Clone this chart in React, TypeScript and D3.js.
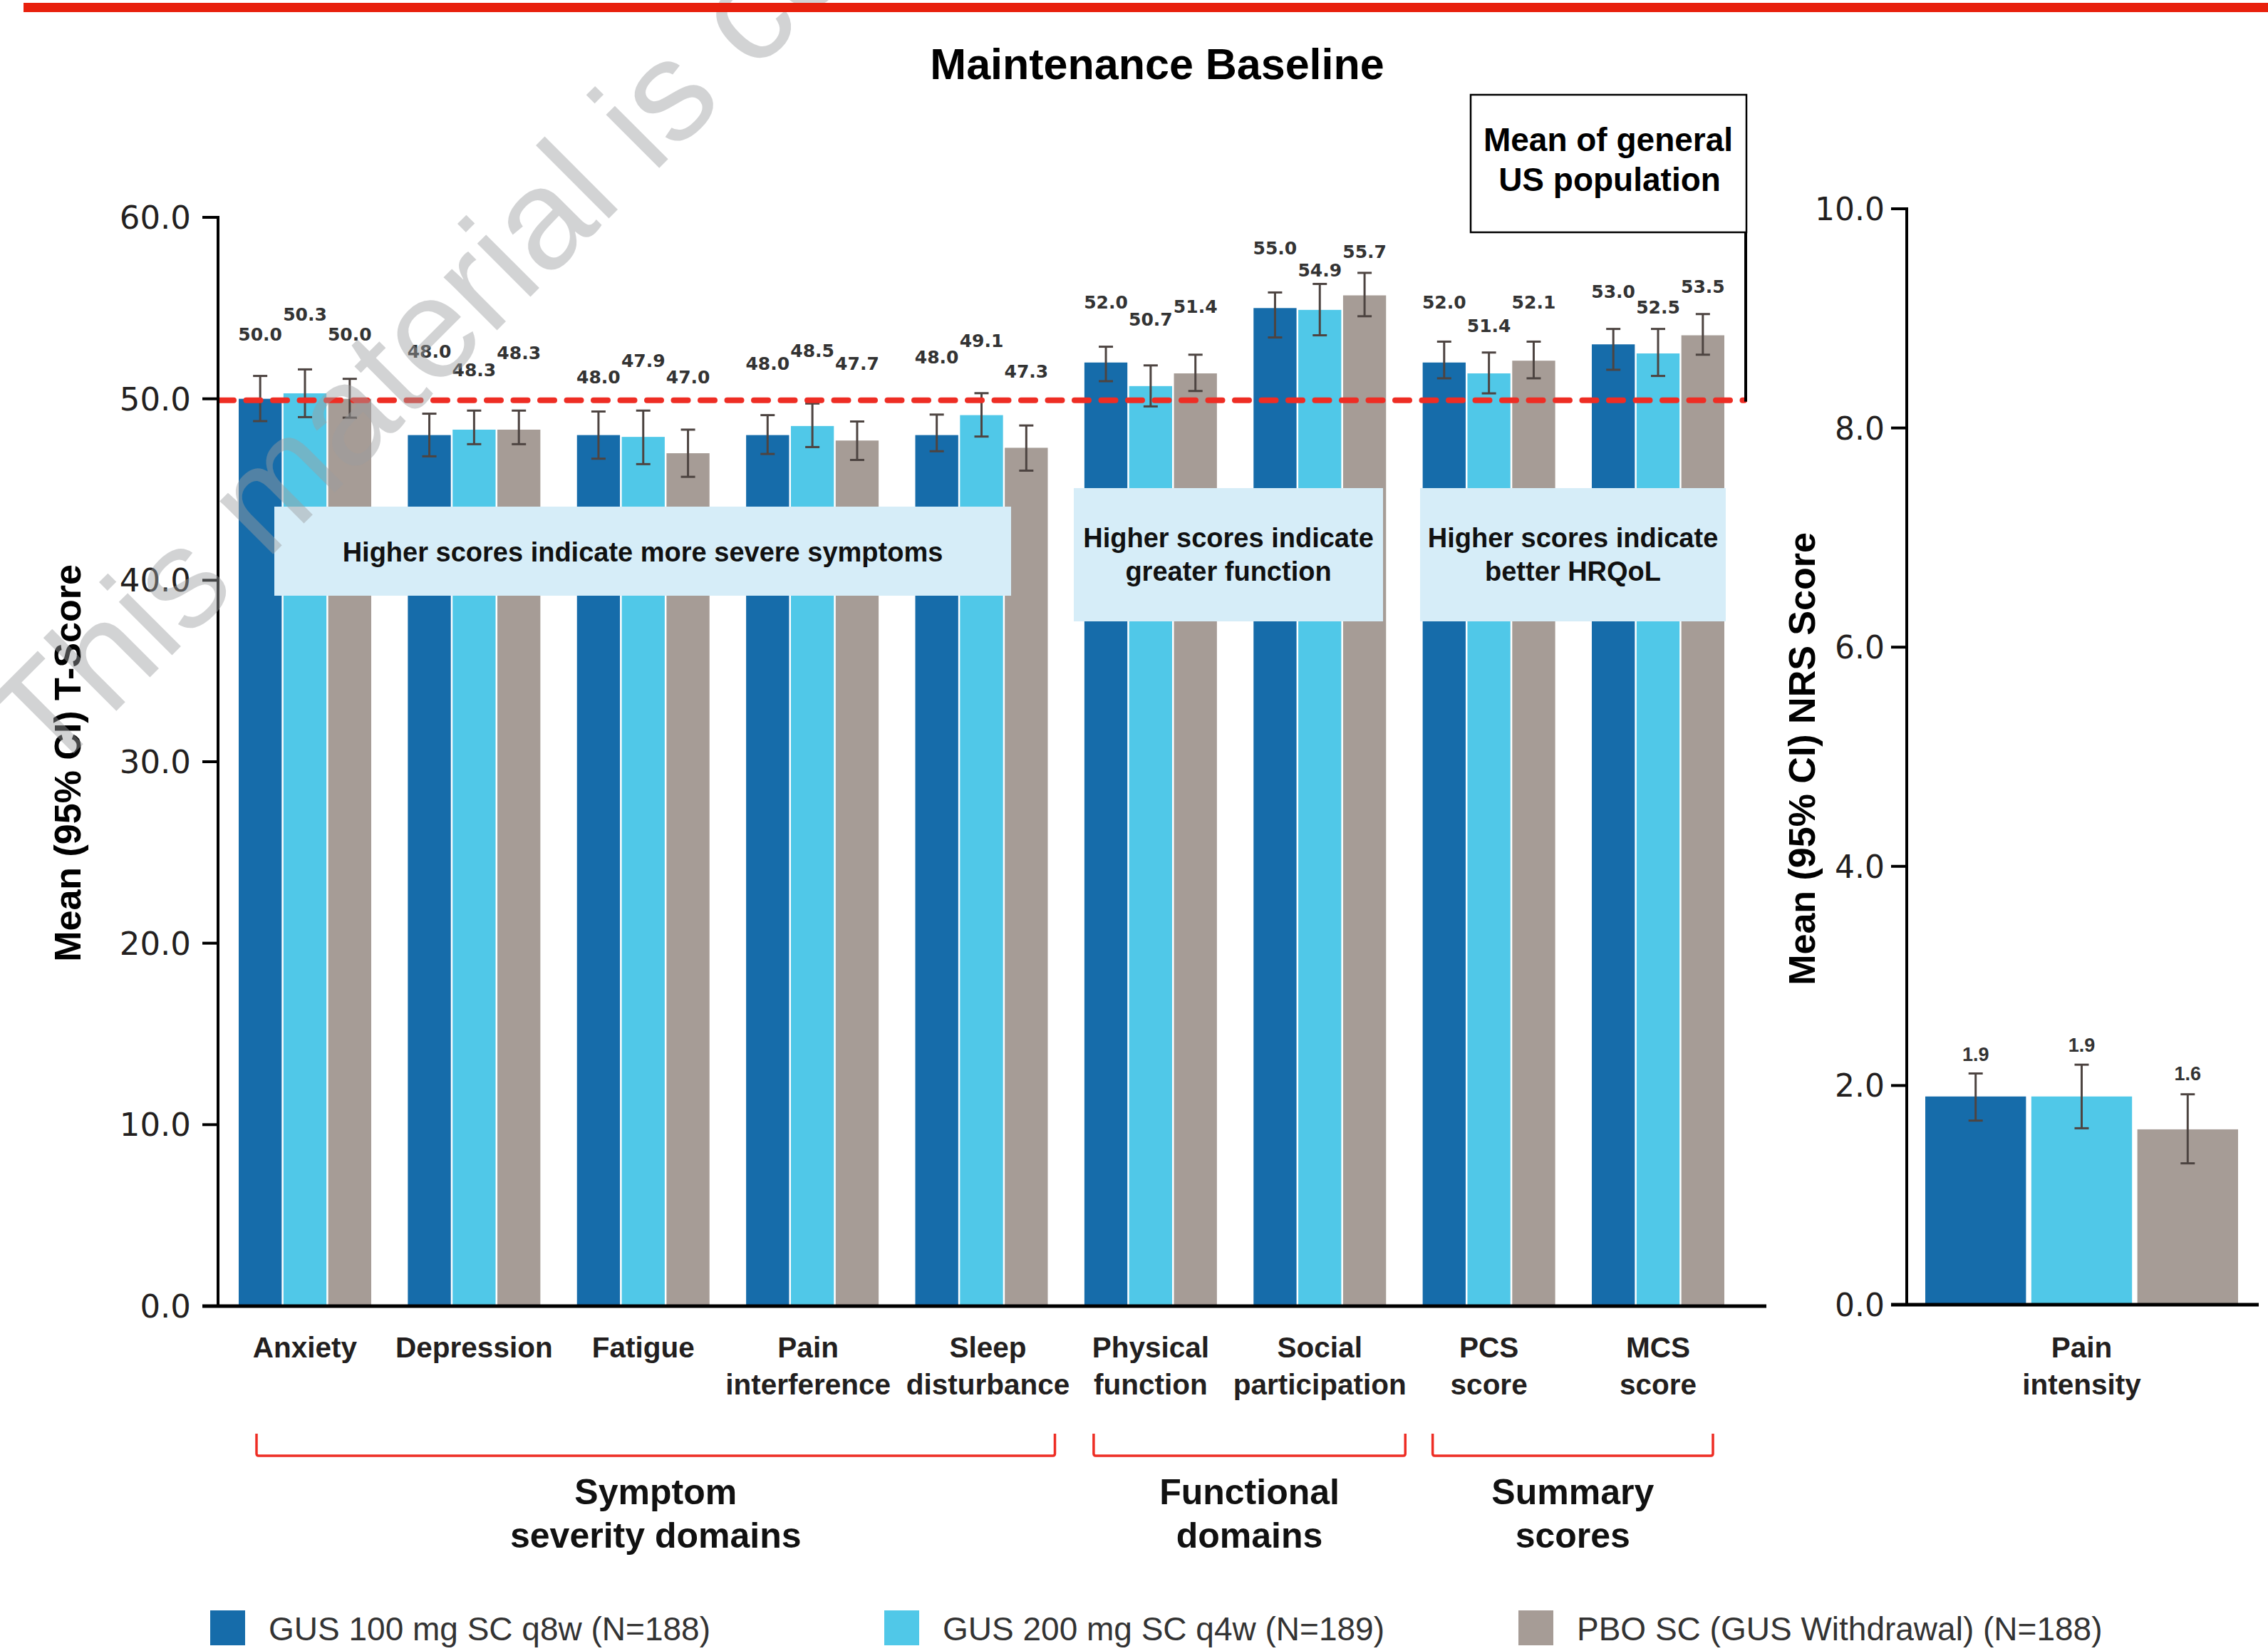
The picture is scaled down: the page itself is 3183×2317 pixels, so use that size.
import React from 'react';
import * as d3 from 'd3';

// ---------- DATA ----------
const categories = [
  'Anxiety', 'Depression', 'Fatigue', 'Pain interference', 'Sleep disturbance',
  'Physical function', 'Social participation', 'PCS score', 'MCS score',
];
const categoryLines = [
  ['Anxiety'], ['Depression'], ['Fatigue'], ['Pain', 'interference'], ['Sleep', 'disturbance'],
  ['Physical', 'function'], ['Social', 'participation'], ['PCS', 'score'], ['MCS', 'score'],
];
const seriesNames = ['GUS 100 mg SC q8w (N=188)', 'GUS 200 mg SC q4w (N=189)', 'PBO SC (GUS Withdrawal) (N=188)'];
const seriesColors = ['#166CAA', '#50C8E8', '#A69C96'];

const gus100 = [50.0, 48.0, 48.0, 48.0, 48.0, 52.0, 55.0, 52.0, 53.0];
const gus200 = [50.3, 48.3, 47.9, 48.5, 49.1, 50.7, 54.9, 51.4, 52.5];
const pbo = [50.0, 48.3, 47.0, 47.7, 47.3, 51.4, 55.7, 52.1, 53.5];

const gus100Lo = [48.77, 46.83, 46.7, 46.96, 47.11, 50.97, 53.38, 51.13, 51.6];
const gus100Hi = [51.26, 49.18, 49.3, 49.1, 49.13, 52.87, 55.86, 53.15, 53.85];
const gus200Lo = [48.99, 47.5, 46.4, 47.34, 47.92, 49.58, 53.5, 50.3, 51.26];
const gus200Hi = [51.62, 49.35, 49.35, 49.74, 50.31, 51.84, 56.33, 52.55, 53.85];
const pboLo = [48.96, 47.5, 45.7, 46.63, 46.04, 50.43, 54.55, 51.13, 52.43];
const pboHi = [51.1, 49.35, 48.3, 48.75, 48.53, 52.43, 56.94, 53.15, 54.67];

// level (T-score units) at which each value label sits
const gus100LabelLevel = [53.55, 52.63, 51.22, 51.96, 52.32, 55.34, 58.33, 55.34, 55.93];
const gus200LabelLevel = [54.65, 51.6, 52.12, 52.67, 53.22, 54.4, 57.08, 54.05, 55.07];
const pboLabelLevel = [53.55, 52.55, 51.22, 51.96, 51.53, 55.1, 58.13, 55.34, 56.21];

const painCategory = ['Pain intensity'];
const painValues = [1.9, 1.9, 1.6];
const painLo = [1.68, 1.61, 1.29];
const painHi = [2.11, 2.19, 1.92];
const painLabelLevel = [2.29, 2.37, 2.11];

const leftTicks = [0, 10, 20, 30, 40, 50, 60];
const rightTicks = [0, 2, 4, 6, 8, 10];
const generalPopulationMean = 50;

const domainGroupLabels = [['Symptom', 'severity domains'], ['Functional', 'domains'], ['Summary', 'scores']];
const domainGroupFirst = [0, 5, 7];
const domainGroupLast = [4, 6, 8];

const noteTexts = [
  ['Higher scores indicate more severe symptoms'],
  ['Higher scores indicate', 'greater function'],
  ['Higher scores indicate', 'better HRQoL'],
];

// ---------- STYLE / LAYOUT ----------
const TEXT = '"Liberation Sans", Arial, sans-serif';
const NUM = '"DejaVu Sans", sans-serif';
const RED = '#EE2D24';
const ERR = '#4D4441';
const INK = '#231F20';
const categoryLabelNudge = [0, 0, 0, -6, 9, 0, 0, 0, 0];
const bracketInset = [[25, 10], [13, 27], [14, -16]];

export default function App() {
  const W = 3183, H = 2317;

  const yL = d3.scaleLinear().domain([0, 60]).range([1833, 305]);
  const yR = d3.scaleLinear().domain([0, 10]).range([1831, 293]);
  const xL = d3.scaleBand<string>().domain(categories).range([335, 2420]).paddingInner(0.2165).paddingOuter(0);
  const xLS = d3.scaleBand<number>().domain([0, 1, 2]).range([0, xL.bandwidth()]).paddingInner(0.04);
  const xR = d3.scaleBand<string>().domain(painCategory).range([2702, 3141]);
  const xRS = d3.scaleBand<number>().domain([0, 1, 2]).range([0, xR.bandwidth()]).paddingInner(0.05);

  const values = [gus100, gus200, pbo];
  const los = [gus100Lo, gus200Lo, pboLo];
  const his = [gus100Hi, gus200Hi, pboHi];
  const lbl = [gus100LabelLevel, gus200LabelLevel, pboLabelLevel];

  const axisLeftX = 306;
  const axisRightX = 2676;
  const capW = 10;

  const noteBoxes = [
    { x0: 385, x1: 1419, y0: 711, y1: 836 },
    { x0: 1507, x1: 1941, y0: 685, y1: 872 },
    { x0: 1993, x1: 2422, y0: 685, y1: 872 },
  ];

  const refY = yL(generalPopulationMean) + 2;

  return (
    <div style={{ position: 'absolute', left: 0, top: 0, width: W, height: H, background: '#fff' }}>
      <svg width={W} height={H} viewBox={`0 0 ${W} ${H}`} xmlns="http://www.w3.org/2000/svg">
        <rect x={0} y={0} width={W} height={H} fill="#fff" />

        {/* title */}
        <text x={1624} y={111} textAnchor="middle" fontFamily={TEXT} fontWeight="bold" fontSize={61} fill="#000">
          Maintenance Baseline
        </text>

        {/* left bars */}
        {categories.map((c, i) => (
          <g key={c}>
            {values.map((vals, s) => (
              <rect key={s} x={(xL(c) as number) + (xLS(s) as number)} y={yL(vals[i])}
                width={xLS.bandwidth()} height={yL(0) - yL(vals[i])} fill={seriesColors[s]} />
            ))}
          </g>
        ))}

        {/* annotation boxes */}
        {noteBoxes.map((b, k) => (
          <g key={k}>
            <rect x={b.x0} y={b.y0} width={b.x1 - b.x0} height={b.y1 - b.y0} fill="#D6EDF8" />
            {noteTexts[k].map((line, j) => {
              const n = noteTexts[k].length;
              const cy = (b.y0 + b.y1) / 2;
              const base = n === 1 ? cy + 14 : cy - 11 + j * 47;
              return (
                <text key={j} x={(b.x0 + b.x1) / 2} y={base} textAnchor="middle" fontFamily={TEXT}
                  fontWeight="bold" fontSize={38} fill="#111">{line}</text>
              );
            })}
          </g>
        ))}

        {/* error bars + labels left */}
        {categories.map((c, i) => (
          <g key={c + 'e'}>
            {values.map((vals, s) => {
              const cx = (xL(c) as number) + (xLS(s) as number) + xLS.bandwidth() / 2;
              return (
                <g key={s}>
                  <line x1={cx} x2={cx} y1={yL(los[s][i])} y2={yL(his[s][i])} stroke={ERR} strokeWidth={3} />
                  <line x1={cx - capW} x2={cx + capW} y1={yL(los[s][i])} y2={yL(los[s][i])} stroke={ERR} strokeWidth={3} />
                  <line x1={cx - capW} x2={cx + capW} y1={yL(his[s][i])} y2={yL(his[s][i])} stroke={ERR} strokeWidth={3} />
                  <text x={cx} y={yL(lbl[s][i]) + 9} textAnchor="middle" fontFamily={NUM} fontWeight="bold"
                    fontSize={25} fill="#333">{vals[i].toFixed(1)}</text>
                </g>
              );
            })}
          </g>
        ))}

        {/* reference dashed line + callout */}
        <line x1={axisLeftX + 2} x2={2448} y1={refY} y2={refY} stroke={RED} strokeWidth={8}
          strokeDasharray="20 17.5" strokeLinecap="round" />
        <line x1={2450} x2={2450} y1={326} y2={refY + 2} stroke="#000" strokeWidth={4} />
        <rect x={2064} y={133} width={387} height={193} fill="#fff" stroke="#000" strokeWidth={2.5} />
        <text x={2257} y={212} textAnchor="middle" fontFamily={TEXT} fontWeight="bold" fontSize={46} fill="#000">Mean of general</text>
        <text x={2259} y={268} textAnchor="middle" fontFamily={TEXT} fontWeight="bold" fontSize={46} fill="#000">US population</text>

        {/* left axis */}
        <line x1={axisLeftX} x2={axisLeftX} y1={yL(60) - 2} y2={yL(0) + 2} stroke="#000" strokeWidth={4} />
        <line x1={axisLeftX - 22} x2={2479} y1={yL(0)} y2={yL(0)} stroke="#000" strokeWidth={5} />
        {leftTicks.map((t) => (
          <g key={t}>
            <line x1={axisLeftX - 22} x2={axisLeftX} y1={yL(t)} y2={yL(t)} stroke="#000" strokeWidth={4} />
            <text x={axisLeftX - 38} y={yL(t) + 16} textAnchor="end" fontFamily={NUM} fontSize={45} fill={INK}>
              {t.toFixed(1)}
            </text>
          </g>
        ))}
        <text transform={`translate(113, 1071) rotate(-90)`} textAnchor="middle" fontFamily={TEXT}
          fontWeight="bold" fontSize={52} fill="#000">Mean (95% CI) T-Score</text>

        {/* category labels */}
        {categories.map((c, i) => (
          <g key={c + 'l'}>
            {categoryLines[i].map((line, j) => (
              <text key={j} x={(xL(c) as number) + xL.bandwidth() / 2 + categoryLabelNudge[i]} y={1905 + j * 52}
                textAnchor="middle" fontFamily={TEXT} fontWeight="bold" fontSize={40.5} fill={INK}>{line}</text>
            ))}
          </g>
        ))}

        {/* domain brackets */}
        {domainGroupLabels.map((lines, k) => {
          const x0 = (xL(categories[domainGroupFirst[k]]) as number) + bracketInset[k][0];
          const x1 = (xL(categories[domainGroupLast[k]]) as number) + xL.bandwidth() + bracketInset[k][1];
          const cx = (x0 + x1) / 2;
          return (
            <g key={k}>
              <path d={`M${x0},2012 L${x0},2040 Q${x0},2043 ${x0 + 3},2043 L${x1 - 3},2043 Q${x1},2043 ${x1},2040 L${x1},2012`}
                fill="none" stroke={RED} strokeWidth={3.5} />
              {lines.map((line, j) => (
                <text key={j} x={cx} y={2111 + j * 61} textAnchor="middle" fontFamily={TEXT} fontWeight="bold"
                  fontSize={50} fill="#111">{line}</text>
              ))}
            </g>
          );
        })}

        {/* right panel */}
        {painValues.map((v, s) => {
          const x = (xR(painCategory[0]) as number) + (xRS(s) as number);
          const cx = x + xRS.bandwidth() / 2;
          return (
            <g key={'p' + s}>
              <rect x={x} y={yR(v)} width={xRS.bandwidth()} height={yR(0) - yR(v)} fill={seriesColors[s]} />
              <line x1={cx} x2={cx} y1={yR(painLo[s])} y2={yR(painHi[s])} stroke={ERR} strokeWidth={3} />
              <line x1={cx - capW} x2={cx + capW} y1={yR(painLo[s])} y2={yR(painLo[s])} stroke={ERR} strokeWidth={3} />
              <line x1={cx - capW} x2={cx + capW} y1={yR(painHi[s])} y2={yR(painHi[s])} stroke={ERR} strokeWidth={3} />
              <text x={cx} y={yR(painLabelLevel[s]) + 10} textAnchor="middle" fontFamily={TEXT} fontWeight="bold"
                fontSize={27} fill="#333">{v.toFixed(1)}</text>
            </g>
          );
        })}
        <line x1={axisRightX} x2={axisRightX} y1={yR(10) - 2} y2={yR(0) + 2} stroke="#000" strokeWidth={4} />
        <line x1={axisRightX - 22} x2={3170} y1={yR(0)} y2={yR(0)} stroke="#000" strokeWidth={5} />
        {rightTicks.map((t) => (
          <g key={'r' + t}>
            <line x1={axisRightX - 22} x2={axisRightX} y1={yR(t)} y2={yR(t)} stroke="#000" strokeWidth={4} />
            <text x={axisRightX - 31} y={yR(t) + 16} textAnchor="end" fontFamily={NUM} fontSize={44} fill={INK}>
              {t.toFixed(1)}
            </text>
          </g>
        ))}
        <text transform={`translate(2547, 1065) rotate(-90)`} textAnchor="middle" fontFamily={TEXT}
          fontWeight="bold" fontSize={52} fill="#000">Mean (95% CI) NRS Score</text>
        {['Pain', 'intensity'].map((line, j) => (
          <text key={line} x={(xR(painCategory[0]) as number) + xR.bandwidth() / 2} y={1905 + j * 52}
            textAnchor="middle" fontFamily={TEXT} fontWeight="bold" fontSize={40.5} fill={INK}>{line}</text>
        ))}

        {/* legend */}
        {seriesNames.map((name, s) => {
          const lx = [295, 1241, 2131][s];
          return (
            <g key={name}>
              <rect x={lx} y={2260} width={49} height={49} fill={seriesColors[s]} />
              <text x={lx + 82} y={2302} fontFamily={TEXT} fontSize={46} fill="#333">{name}</text>
            </g>
          );
        })}

        {/* watermark */}
        <text transform="translate(67, 1094) rotate(-45)" fontFamily={TEXT} fontSize={200}
          fill="#9C9E9F" fillOpacity={0.45}>This material is confidential</text>

        {/* top red band */}
        <rect x={33} y={4} width={W - 33} height={13} fill="#E8200C" />
      </svg>
    </div>
  );
}
